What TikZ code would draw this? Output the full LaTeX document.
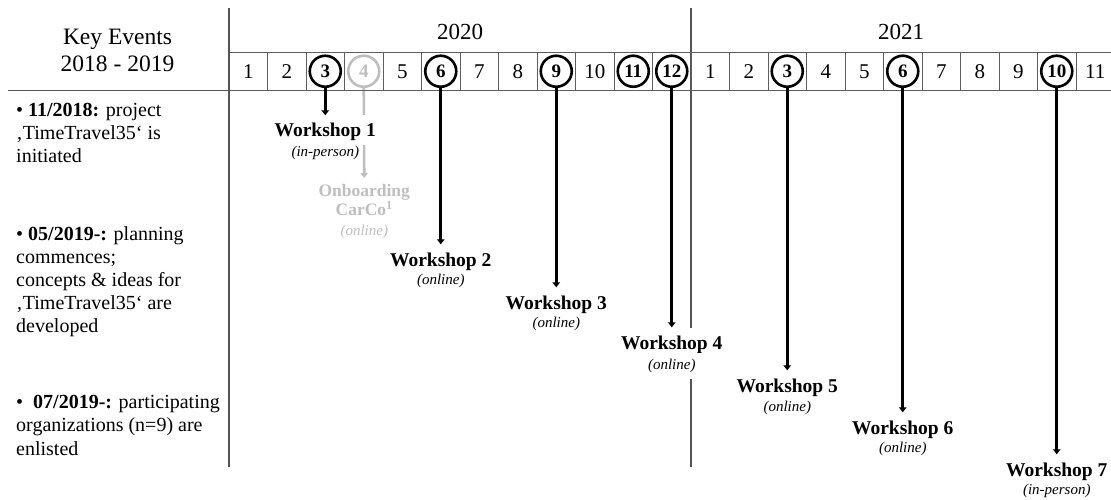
\documentclass[tikz,border=0pt]{standalone}
\usepackage{fontspec}
\setmainfont{Liberation Serif}
\usetikzlibrary{arrows.meta,backgrounds}
\definecolor{gridc}{HTML}{5E5E5E}
\definecolor{divc}{HTML}{555555}
\definecolor{ghost}{HTML}{BEBEBE}
\begin{document}
\begin{tikzpicture}[x=1pt,y=-1pt,
  cell/.style={draw=gridc,line width=0.9pt,minimum width=38.5pt,minimum height=38.5pt,inner sep=0pt,
    font=\fontsize{21}{24}\selectfont},
  ring/.style={circle,draw=black,line width=2.6pt,minimum size=31pt,inner sep=0pt,
    font=\bfseries\fontsize{19}{22}\selectfont},
  ghostring/.style={draw=ghost,text=ghost},
  divider/.style={draw=divc,line width=1.2pt},
  conn/.style={line width=3pt,-{Triangle[length=5pt,width=7.5pt]}},
  gconn/.style={draw=ghost,line width=2.6pt,-{Triangle[length=5pt,width=7pt]}},
  wtitle/.style={fill=white,inner xsep=20pt,inner ysep=8pt,text height=13.5pt,text depth=0pt,
    font=\bfseries\fontsize{19.5}{22}\selectfont,anchor=base},
  wsub/.style={inner sep=0pt,font=\itshape\fontsize{15}{18}\selectfont,anchor=base},
  wsubbox/.style={fill=white,inner xsep=20pt,inner ysep=6pt,text height=11pt,text depth=3.5pt,minimum width=142pt},
  keytext/.style={align=left,inner sep=0pt,anchor=north west,font=\fontsize{20}{23}\selectfont},
  year/.style={inner sep=0pt,anchor=base,font=\fontsize{23}{27}\selectfont}
]
\useasboundingbox (0,0) rectangle (1111,500);

% left panel
\node[align=center,inner sep=0pt,anchor=north,font=\fontsize{23.5}{27}\selectfont] (ke) at (117.5,29.4) {Key Events\\2018 - 2019};
\node[keytext] (k1) at (16,103.3) {• \textbf{11/2018:} project\\‚TimeTravel35‘ is\\initiated};
\node[keytext] (k2) at (16,226.3) {• \textbf{05/2019-:} planning\\commences;\\concepts \& ideas for\\‚TimeTravel35‘ are\\developed};
\node[keytext,font=\fontsize{20}{23.5}\selectfont] (k3) at (16,394.5) {•\ \ \textbf{07/2019-:} participating\\organizations (n=9) are\\enlisted};

% year headers
\node[year] (y20) at (460,39.5) {2020};
\node[year] (y21) at (901,39.5) {2021};

% month cells 2020
\foreach \m in {1,2,5,7,8,10}
  \node[cell] (a\m) at ({229+(\m-0.5)*38.5},71.25) {\m};
\foreach \m in {3,4,6,9,11,12}
  \node[cell] (a\m) at ({229+(\m-0.5)*38.5},71.25) {};
\foreach \m in {3,6,9,11,12}
  \node[ring] (ra\m) at (a\m) {\m};
\node[ring,ghostring] (ra4) at (a4) {4};

% month cells 2021
\foreach \m in {1,2,4,5,7,8,9,11}
  \node[cell] (b\m) at ({691+(\m-0.5)*38.5},71.25) {\m};
\foreach \m in {3,6,10}
  \node[cell] (b\m) at ({691+(\m-0.5)*38.5},71.25) {};
\foreach \m in {3,6,10}
  \node[ring] (rb\m) at (b\m) {\m};

% dividers
\draw[divider] (229,8) -- (229,467);
\draw[divider] (8,90.5) -- (229,90.5);

% workshop labels
\node[wtitle] (w1) at (325.25,137) {Workshop 1};
\node[wsub] (s1) at (325.25,157) {(in-person)};
\node[wtitle] (w2) at (440.75,266) {Workshop 2};
\node[wsub] (s2) at (440.75,284) {(online)};
\node[wtitle] (w3) at (556.25,309) {Workshop 3};
\node[wsub] (s3) at (556.25,327) {(online)};
\node[wtitle,minimum width=142pt] (w4) at (671.75,349) {Workshop 4};
\node[wsub,wsubbox] (s4) at (671.75,369.5) {(online)};
\node[wtitle] (w5) at (787.25,392) {Workshop 5};
\node[wsub] (s5) at (787.25,411) {(online)};
\node[wtitle] (w6) at (902.75,434) {Workshop 6};
\node[wsub] (s6) at (902.75,452) {(online)};
\node[wtitle] (w7) at (1056.75,476) {Workshop 7};
\node[wsub] (s7) at (1056.75,494) {(in-person)};

% onboarding
\node[anchor=north,align=center,inner xsep=0pt,inner ysep=6pt,text=ghost,
  font=\bfseries\fontsize{17.5}{19}\selectfont] (ob) at (364.25,178) {Onboarding\\CarCo\textsuperscript{1}};
\node[wsub,text=ghost] (obs) at (364.25,235) {(online)};

\begin{pgfonlayer}{background}
  \draw[divider] (691,8) -- (691,467);
  \draw[gconn] (ra4.south) -- (ob.north);
\end{pgfonlayer}

% connectors
\draw[conn] (ra3.south) -- (w1.north);
\draw[conn] (ra6.south) -- (w2.north);
\draw[conn] (ra9.south) -- (w3.north);
\draw[conn] (ra12.south) -- (w4.north);
\draw[conn] (rb3.south) -- (w5.north);
\draw[conn] (rb6.south) -- (w6.north);
\draw[conn] (rb10.south) -- (w7.north);
\end{tikzpicture}
\end{document}
